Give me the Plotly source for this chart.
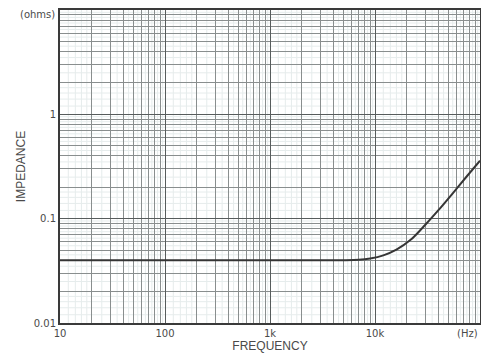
import plotly.graph_objects as go

# Data
freq_hz = [10, 100, 1000, 5000, 7000, 9000, 12000, 16000, 22000, 30000, 40000, 55000, 75000, 100000]
impedance_ohm = [0.04, 0.04, 0.04, 0.04, 0.0403, 0.0415, 0.0445, 0.0505, 0.063, 0.087, 0.12, 0.175, 0.255, 0.36]

x_tick_vals = [10, 100, 1000, 10000]
x_tick_text = ["10", "100", "1k", "10k"]
y_tick_vals = [0.01, 0.1, 1]
y_tick_text = ["0.01", "0.1", "1"]

FONT = "DejaVu Sans"
TFONT = "Liberation Sans"
TXT = "#4a4a4a"

fig = go.Figure()
fig.add_trace(go.Scatter(
    x=freq_hz, y=impedance_ohm, mode="lines",
    line=dict(color="#353535", width=2, shape="spline", smoothing=0.8),
    hoverinfo="skip", showlegend=False,
))

# faint graph-paper sub-lines
faint = [1.2, 1.4, 1.6, 1.8, 2.5, 3.5, 4.5, 5.5, 6.5, 7.5, 8.5, 9.5]
shapes = []
for d in [10, 100, 1000, 10000]:
    for m in faint:
        shapes.append(dict(type="line", xref="x", yref="paper", x0=d * m, x1=d * m, y0=0, y1=1,
                           line=dict(color="#e6ecec", width=1), layer="below"))
for d in [0.01, 0.1, 1]:
    for m in faint:
        shapes.append(dict(type="line", xref="paper", yref="y", y0=d * m, y1=d * m, x0=0, x1=1,
                           line=dict(color="#e6ecec", width=1), layer="below"))

axis_common = dict(
    type="log", showline=True, linecolor="#3a3a3a", linewidth=2, mirror=True,
    showgrid=True, gridcolor="#575c5c", gridwidth=1.1,
    ticks="", tickfont=dict(family=FONT, size=10, color=TXT),
    minor=dict(dtick="D1", showgrid=True, gridcolor="#898e8e", gridwidth=1, ticks=""),
    zeroline=False, automargin=False,
)

# page body has an 8px margin, so the figure is sized to fit inside the window
fig.update_layout(
    width=481, height=353,
    margin=dict(l=52, r=9, t=2, b=38),
    paper_bgcolor="white", plot_bgcolor="white",
    shapes=shapes,
    xaxis=dict(axis_common, range=[1, 5], tickvals=x_tick_vals, ticktext=x_tick_text,
               title=dict(text="FREQUENCY", font=dict(family=TFONT, size=12, color=TXT), standoff=1)),
    yaxis=dict(axis_common, range=[-2, 1], tickvals=y_tick_vals, ticktext=y_tick_text,
               title=dict(text="IMPEDANCE", font=dict(family=TFONT, size=12, color=TXT), standoff=6)),
    annotations=[
        dict(text="(Hz)", x=1, y=0, xref="paper", yref="paper", xanchor="right", yanchor="top",
             yshift=-3, showarrow=False, font=dict(family=FONT, size=10, color=TXT)),
        dict(text="(ohms)", x=0, y=1, xref="paper", yref="paper", xanchor="right", yanchor="middle",
             xshift=-3, yshift=-4, showarrow=False, font=dict(family=FONT, size=10, color=TXT)),
    ],
)

fig.write_html("out.html")
